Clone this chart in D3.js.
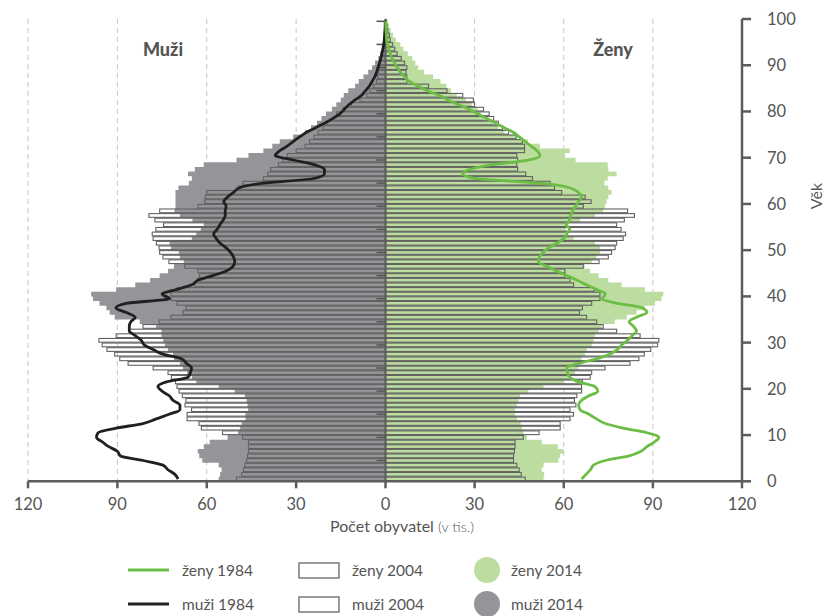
<!DOCTYPE html>
<html>
<head>
<meta charset="utf-8">
<script src="https://cdnjs.cloudflare.com/ajax/libs/d3/7.8.5/d3.min.js"></script>
<style>
body { margin: 0; background: #fff; }
text { font-family: Lato, "Open Sans", sans-serif; fill: #555; }
</style>
</head>
<body>
<div id="graph"></div>
<script>
// population by single year of age 0..99, thousands
var men2014 = [56, 55.5, 55, 56, 61.5, 62.5, 63, 61, 59, 53,
	49.5, 48.8, 48.3, 47, 47, 46.1, 46.3, 46.6, 47.2, 50.6,
	56, 63.5, 65, 66.5, 68, 69, 71, 71.3, 73, 74,
	74.6, 75.2, 75.2, 77, 82.5, 90.9, 92.6, 93.7, 96, 98.2,
	98.8, 90.4, 84, 79, 75.8, 73, 71, 67.7, 69, 69.4,
	72, 72.5, 65, 63.5, 62, 61, 64.8, 69, 70.8, 70.5,
	70.5, 70.5, 70.5, 69.5, 66, 65, 66.3, 64, 61, 50,
	46, 41, 38, 35.5, 31, 27, 25, 23, 21.5, 20,
	18, 16.5, 15, 14, 12.5, 10.2, 9, 7.4, 5.8, 4.5,
	3.5, 2.4, 1.8, 1.2, 0.8, 0.6, 0.5, 0.4, 0.3, 0.2];

var women2014 = [53.2, 53.4, 52.6, 53.2, 58.2, 58.8, 59.9, 58, 52.6, 47.6,
	46.4, 45.9, 45.5, 44.2, 43.6, 43.6, 44.2, 44.8, 45.3, 48.1,
	53.2, 59.9, 61.6, 63.8, 64.9, 65.5, 66, 67.2, 67.7, 69.4,
	70, 70.5, 71.7, 72.8, 77.2, 81.2, 84.5, 87.3, 90.7, 92.9,
	93.5, 87.3, 79.5, 75, 71.7, 68.9, 67, 69.4, 71, 72.2,
	72.2, 70.5, 63.3, 60.4, 60.7, 61.6, 65.5, 70.5, 73.3, 73.9,
	74.4, 75, 76.1, 75, 73.7, 74.8, 77.8, 75, 74.8, 64,
	60.4, 62, 52, 48, 44, 40, 38, 36, 33, 32,
	31, 29, 27, 24, 22, 20.5, 18.5, 16, 13, 11,
	10, 9, 7.5, 6, 5, 3.5, 2.5, 1.8, 1.2, 0.7];

var men2004 = [50, 48.3, 47.7, 47.2, 46.6, 46.3, 46, 46, 46, 48,
	54.7, 61.8, 62.6, 66.6, 66.6, 65.1, 67.3, 67, 68.2, 69.3,
	70, 70.5, 71.9, 73, 78, 86.4, 89.2, 90.9, 93.5, 95.1,
	96.2, 90.4, 86, 81.4, 76, 72, 68, 67, 70, 72,
	72, 70, 64, 63, 62.4, 63, 67.4, 72.7, 74.7, 75.8,
	76, 76.9, 78, 78.3, 77.1, 74.5, 77.4, 79.4, 75.8, 62.9,
	60.7, 60.5, 60, 49.5, 47.8, 41, 39.5, 38.5, 36, 34.5,
	33, 30, 27, 25.5, 24, 22.6, 21, 19.8, 17.5, 16.4,
	14.2, 11.4, 8.6, 6.3, 5.2, 4.1, 3, 2.7, 2.4, 2.2,
	1.9, 1.6, 1.3, 1, 0.7, 0.5, 0.4, 0.3, 0.2, 0.1];

var women2004 = [47, 45.7, 45, 44.2, 43.1, 43.1, 43.4, 43.6, 43.6, 46.4,
	51.7, 58.8, 58.8, 62.1, 63.3, 62.1, 64.1, 63.6, 64.4, 66,
	66, 66.3, 68.9, 69.4, 73.9, 82.3, 85.3, 87.1, 89.3, 91.6,
	92, 85.7, 77.8, 73.3, 71.1, 67.7, 65.3, 66.3, 69.4, 72.2,
	72.2, 70.3, 63.3, 62.1, 60.4, 60.4, 66.6, 71.9, 75, 76.1,
	77.3, 77.8, 80, 80.8, 79.3, 77.8, 80.4, 83.8, 81.5, 66.6,
	69.2, 67.2, 59.3, 56.9, 55.4, 49.5, 47.2, 44.5, 44.2, 44.5,
	44.2, 46.8, 46.8, 46.1, 44, 41.4, 39.4, 38, 36.4, 34.9,
	33, 30, 29.6, 26, 20.7, 14.5, 7.2, 7.2, 6.9, 7.2,
	6.4, 5.3, 3.9, 3.1, 2.4, 1.6, 1.3, 0.8, 0.5, 0.2];

var men1984 = [69.6, 70.7, 73, 74.7, 81.4, 89, 90, 92.9, 95, 97,
	96.5, 90.4, 81.4, 77, 72.6, 69, 69, 71.3, 72.6, 75,
	76.4, 73.5, 66.3, 65.5, 65.1, 66.8, 68.5, 74.7, 78, 81,
	82, 84, 86, 86, 85.5, 84, 87, 90.5, 87, 72.5,
	75, 70, 65, 63, 58, 53.5, 51.2, 50.6, 51, 52,
	53.5, 55.5, 56.8, 57.7, 56.5, 55.6, 54.5, 53.8, 53.8, 53.5,
	54.3, 53, 51, 49, 41, 24, 20.5, 20.5, 24, 31,
	37, 35.5, 33, 31, 28.8, 26.5, 23.4, 20.3, 17.6, 15.3,
	13.8, 12.2, 10.2, 8, 6.7, 5.4, 4.5, 3.6, 3, 2.5,
	2, 1.6, 1.2, 0.9, 0.6, 0.4, 0.3, 0.2, 0.1, 0.1];

var women1984 = [66, 67.5, 69, 70, 74, 82, 86, 88, 90.5, 92,
	88, 80, 74, 71, 68.5, 65.5, 65, 66, 68.5, 71.5,
	70.5, 65, 62, 61.2, 61, 65, 71, 75.5, 78, 79.5,
	81.5, 83, 84.5, 83.5, 82, 84.5, 88, 86.5, 78, 73,
	74, 71, 67.7, 64.5, 61, 57.5, 54.3, 51.5, 51.8, 53,
	55, 57.5, 60, 61, 62, 60.8, 62, 62.3, 63, 64,
	65, 66, 64.9, 62, 52, 30, 26, 28.5, 36, 48,
	52, 51, 49, 47, 45, 43, 40, 37, 34, 31,
	28, 24.5, 21, 18, 14, 11, 8, 6.5, 5, 4,
	3, 2.2, 1.6, 1.1, 0.6, 0.4, 0.3, 0.2, 0.1, 0.1];

var xTicks = [0, 30, 60, 90, 120];
var ageTicks = [0, 10, 20, 30, 40, 50, 60, 70, 80, 90, 100];
var legendRows = [
	{line: "ženy 1984", box: "ženy 2004", dot: "ženy 2014"},
	{line: "muži 1984", box: "muži 2004", dot: "muži 2014"}
];

var width = 825,
	height = 616,
	cx = 385.5;

var colMen = "#939598",
	colWomen = "#bddc9f",
	colGreen = "#6cbd45",
	colBlack = "#231f20",
	colAxis = "#5c5c5c";

var svg = d3.select("#graph").append("svg")
	.attr("width", width)
	.attr("height", height);

var xL = d3.scaleLinear().domain([0, 120]).range([cx, 28]);
var xR = d3.scaleLinear().domain([0, 120]).range([cx, 742]);
var y = d3.scaleLinear().domain([0, 100]).range([481.3, 19]);

var ages = d3.range(0, 100);

//dashed grid
var grid = svg.append("g");
[[xL, [30, 60, 90, 120]], [xR, [30, 60, 90]]].forEach(function(s){
	grid.selectAll(null).data(s[1]).enter().append("line")
		.attr("x1", function(d){ return s[0](d); })
		.attr("x2", function(d){ return s[0](d); })
		.attr("y1", y(100))
		.attr("y2", y(0))
		.attr("stroke", "#c4c4c4")
		.attr("stroke-dasharray", "5,4");
});

//2014 as stepped areas
function stepArea(xs, vals){
	var pts = ages.map(function(a){ return [a, vals[a]]; });
	pts.push([100, vals[99]]);
	return d3.area()
		.x0(xs(0))
		.x1(function(d){ return xs(d[1]); })
		.y(function(d){ return y(d[0]); })
		.curve(d3.curveStepBefore)(pts);
}
svg.append("path").attr("d", stepArea(xL, men2014)).attr("fill", colMen);
svg.append("path").attr("d", stepArea(xR, women2014)).attr("fill", colWomen);

//2004 as outlined bars
function bars(xs, vals){
	svg.append("g").selectAll("rect")
		.data(ages).enter().append("rect")
		.attr("x", function(a){ return Math.min(xs(0), xs(vals[a])); })
		.attr("width", function(a){ return Math.abs(xs(vals[a]) - xs(0)); })
		.attr("y", function(a){ return y(a + 1) + 0.45; })
		.attr("height", function(a){ return y(a) - y(a + 1) - 0.9; })
		.attr("fill", "none")
		.attr("stroke", "#626262")
		.attr("stroke-width", 1.1);
}
bars(xL, men2004);
bars(xR, women2004);

//center axis with small ticks
svg.append("line")
	.attr("x1", cx).attr("x2", cx)
	.attr("y1", y(100)).attr("y2", y(0))
	.attr("stroke", colAxis).attr("stroke-width", 2);
svg.append("g").selectAll("line")
	.data(d3.range(5, 101, 5)).enter().append("line")
	.attr("x1", cx - 9).attr("x2", cx)
	.attr("y1", function(d){ return y(d - 0.5); })
	.attr("y2", function(d){ return y(d - 0.5); })
	.attr("stroke", "#555").attr("stroke-width", 1.5);

//1984 lines
function ageLine(xs, vals, col){
	svg.append("path")
		.attr("d", d3.line()
			.x(function(a){ return xs(vals[a]); })
			.y(function(a){ return y(a + 0.5); })
			.curve(d3.curveMonotoneY)(ages))
		.attr("fill", "none")
		.attr("stroke", col)
		.attr("stroke-width", 2.8)
		.attr("stroke-linejoin", "round");
}
ageLine(xL, men1984, colBlack);
ageLine(xR, women1984, colGreen);

//x axis
var xa = svg.append("g");
xa.append("line")
	.attr("x1", xL(120)).attr("x2", xR(120))
	.attr("y1", y(0)).attr("y2", y(0))
	.attr("stroke", colAxis).attr("stroke-width", 2.5);
[xL, xR].forEach(function(s, k){
	var t = k == 0 ? xTicks : xTicks.slice(1);
	xa.selectAll(null).data(t).enter().append("line")
		.attr("x1", function(d){ return s(d); })
		.attr("x2", function(d){ return s(d); })
		.attr("y1", y(0)).attr("y2", y(0) + 7)
		.attr("stroke", colAxis).attr("stroke-width", 2.5);
	xa.selectAll(null).data(t).enter().append("text")
		.attr("x", function(d){ return s(d); })
		.attr("y", 510)
		.attr("text-anchor", "middle")
		.style("font-size", "16.5px")
		.text(function(d){ return d; });
});
var xt = svg.append("text").attr("x", 330).attr("y", 532).style("font-size", "16px");
xt.append("tspan").text("Počet obyvatel ");
xt.append("tspan").style("font-size", "14.5px").style("font-weight", "300").text("(v tis.)");

//age axis on the right
var ya = svg.append("g");
ya.append("line")
	.attr("x1", 742).attr("x2", 742)
	.attr("y1", y(100)).attr("y2", y(0))
	.attr("stroke", colAxis).attr("stroke-width", 2.5);
ya.selectAll(null).data(ageTicks).enter().append("line")
	.attr("x1", 742).attr("x2", 751)
	.attr("y1", function(d){ return y(d); })
	.attr("y2", function(d){ return y(d); })
	.attr("stroke", colAxis).attr("stroke-width", 2.5);
ya.selectAll(null).data(ageTicks).enter().append("text")
	.attr("x", 767)
	.attr("y", function(d){ return y(d) + 6; })
	.style("font-size", "16.5px")
	.text(function(d){ return d; });
svg.append("text")
	.attr("transform", "translate(822,196) rotate(-90)")
	.attr("text-anchor", "middle")
	.style("font-size", "16px")
	.text("Věk");

svg.append("text").attr("x", 163).attr("y", 56).attr("text-anchor", "middle")
	.style("font-size", "18px").style("font-weight", "900").text("Muži");
svg.append("text").attr("x", 613).attr("y", 56).attr("text-anchor", "middle")
	.style("font-size", "18px").style("font-weight", "900").text("Ženy");

//legend
var lg = svg.append("g").selectAll("g")
	.data(legendRows).enter().append("g")
	.attr("transform", function(d, i){ return "translate(0," + (570 + i * 34) + ")"; });
lg.append("line")
	.attr("x1", 128).attr("x2", 169)
	.attr("stroke", function(d, i){ return i == 0 ? colGreen : colBlack; })
	.attr("stroke-width", 3);
lg.append("rect")
	.attr("x", 299).attr("y", -7).attr("width", 40).attr("height", 15)
	.attr("fill", "#fff").attr("stroke", "#666").attr("stroke-width", 1.3);
lg.append("circle")
	.attr("cx", 487).attr("r", 13)
	.attr("fill", function(d, i){ return i == 0 ? colWomen : colMen; });
[["line", 182], ["box", 352], ["dot", 511]].forEach(function(c){
	lg.append("text")
		.attr("x", c[1]).attr("y", 6)
		.style("font-size", "15.5px")
		.text(function(d){ return d[c[0]]; });
});
</script>
</body>
</html>
